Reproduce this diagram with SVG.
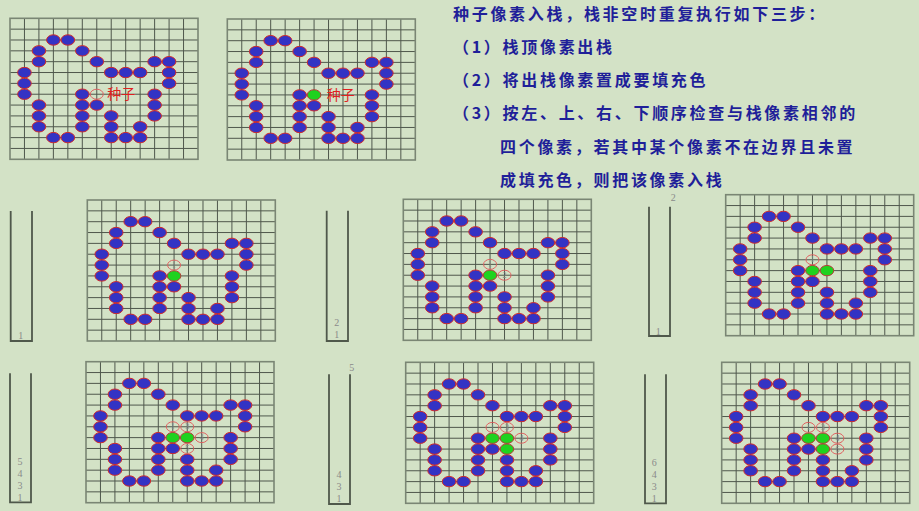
<svg xmlns="http://www.w3.org/2000/svg" xmlns:xlink="http://www.w3.org/1999/xlink" width="919" height="511" viewBox="0 0 919 511">
<style>
.gl{stroke:#4f574c;stroke-width:1;fill:none}
.gb{stroke:#7a8674;stroke-width:1.6;fill:none}
.bd{fill:#3333c4;stroke:#d22a2a;stroke-width:1}
.gr{fill:#1fd21f;stroke:#b83a3a;stroke-width:1}
.oc{fill:none;stroke:#e06262;stroke-width:1}
.dl{font-family:"Liberation Serif",serif;font-size:8px;fill:#8a8a8a;text-anchor:middle}
.sk{fill:none;stroke:#4f584b;stroke-width:1.8}
.sn{font-family:"Liberation Serif",serif;font-size:10px;fill:#8a8a8a;text-anchor:middle}
.seed{font-family:"Noto Sans CJK SC",sans-serif;font-size:14px;fill:#e02020}
.tt{font-family:"Noto Sans CJK SC",sans-serif;font-size:16px;font-weight:bold;fill:#1f1f99;letter-spacing:2.7px}
</style>
<defs>
<g id="base">
<path class="gl" d="M14.46 0V141M28.92 0V141M43.38 0V141M57.85 0V141M72.31 0V141M86.77 0V141M101.23 0V141M115.69 0V141M130.15 0V141M144.62 0V141M159.08 0V141M173.54 0V141M0 10.85H188M0 21.69H188M0 32.54H188M0 43.38H188M0 54.23H188M0 65.08H188M0 75.92H188M0 86.77H188M0 97.62H188M0 108.46H188M0 119.31H188M0 130.15H188"/>
<rect class="gb" x="0" y="0" width="188" height="141"/>
<g class="bd">
<ellipse cx="43.38" cy="21.69" rx="6.8" ry="5.2"/>
<ellipse cx="57.85" cy="21.69" rx="6.8" ry="5.2"/>
<ellipse cx="28.92" cy="32.54" rx="6.8" ry="5.2"/>
<ellipse cx="72.31" cy="32.54" rx="6.8" ry="5.2"/>
<ellipse cx="28.92" cy="43.38" rx="6.8" ry="5.2"/>
<ellipse cx="86.77" cy="43.38" rx="6.8" ry="5.2"/>
<ellipse cx="144.62" cy="43.38" rx="6.8" ry="5.2"/>
<ellipse cx="159.08" cy="43.38" rx="6.8" ry="5.2"/>
<ellipse cx="14.46" cy="54.23" rx="6.8" ry="5.2"/>
<ellipse cx="101.23" cy="54.23" rx="6.8" ry="5.2"/>
<ellipse cx="115.69" cy="54.23" rx="6.8" ry="5.2"/>
<ellipse cx="130.15" cy="54.23" rx="6.8" ry="5.2"/>
<ellipse cx="159.08" cy="54.23" rx="6.8" ry="5.2"/>
<ellipse cx="14.46" cy="65.08" rx="6.8" ry="5.2"/>
<ellipse cx="159.08" cy="65.08" rx="6.8" ry="5.2"/>
<ellipse cx="14.46" cy="75.92" rx="6.8" ry="5.2"/>
<ellipse cx="72.31" cy="75.92" rx="6.8" ry="5.2"/>
<ellipse cx="144.62" cy="75.92" rx="6.8" ry="5.2"/>
<ellipse cx="28.92" cy="86.77" rx="6.8" ry="5.2"/>
<ellipse cx="72.31" cy="86.77" rx="6.8" ry="5.2"/>
<ellipse cx="86.77" cy="86.77" rx="6.8" ry="5.2"/>
<ellipse cx="144.62" cy="86.77" rx="6.8" ry="5.2"/>
<ellipse cx="28.92" cy="97.62" rx="6.8" ry="5.2"/>
<ellipse cx="72.31" cy="97.62" rx="6.8" ry="5.2"/>
<ellipse cx="101.23" cy="97.62" rx="6.8" ry="5.2"/>
<ellipse cx="144.62" cy="97.62" rx="6.8" ry="5.2"/>
<ellipse cx="28.92" cy="108.46" rx="6.8" ry="5.2"/>
<ellipse cx="72.31" cy="108.46" rx="6.8" ry="5.2"/>
<ellipse cx="101.23" cy="108.46" rx="6.8" ry="5.2"/>
<ellipse cx="130.15" cy="108.46" rx="6.8" ry="5.2"/>
<ellipse cx="43.38" cy="119.31" rx="6.8" ry="5.2"/>
<ellipse cx="57.85" cy="119.31" rx="6.8" ry="5.2"/>
<ellipse cx="101.23" cy="119.31" rx="6.8" ry="5.2"/>
<ellipse cx="115.69" cy="119.31" rx="6.8" ry="5.2"/>
<ellipse cx="130.15" cy="119.31" rx="6.8" ry="5.2"/>
</g>
</g>
<ellipse id="g" class="gr" cx="0" cy="0" rx="6.8" ry="5.2"/>
<ellipse id="o" class="oc" cx="0" cy="0" rx="6.5" ry="5"/>
</defs>
<rect width="919" height="511" fill="#d3e2c6"/>

<g id="title">
<text class="tt" x="453" y="20">种子像素入栈，栈非空时重复执行如下三步：</text>
<text class="tt" x="453" y="52.7">（1）栈顶像素出栈</text>
<text class="tt" x="453" y="86">（2）将出栈像素置成要填充色</text>
<text class="tt" x="453" y="119.3">（3）按左、上、右、下顺序检查与栈像素相邻的</text>
<text class="tt" x="500" y="152.7">四个像素，若其中某个像素不在边界且未置</text>
<text class="tt" x="500" y="186">成填充色，则把该像素入栈</text>
</g>

<g id="grid1" transform="translate(10,18.3)">
<use href="#base"/>
<use href="#o" x="86.77" y="75.92"/>
<text class="seed" x="97.3" y="81">种子</text>
</g>

<g id="grid2" transform="translate(227.3,19)">
<use href="#base"/>
<use href="#g" x="86.77" y="75.92"/>
<text class="seed" x="99.4" y="81">种子</text>
</g>

<g id="grid3" transform="translate(87.3,200)">
<use href="#base"/>
<use href="#g" x="86.77" y="75.92"/>
<use href="#o" x="86.77" y="65.08"/><text class="dl" x="86.77" y="67.8">1</text>
</g>

<g id="grid4" transform="translate(403.3,199.3)">
<use href="#base"/>
<use href="#g" x="86.77" y="75.92"/>
<use href="#o" x="86.77" y="65.08"/><text class="dl" x="86.77" y="67.8">1</text>
<use href="#o" x="101.23" y="75.92"/><text class="dl" x="101.23" y="78.6">2</text>
</g>

<g id="grid5" transform="translate(725.7,194.7)">
<use href="#base"/>
<use href="#g" x="86.77" y="75.92"/>
<use href="#g" x="101.23" y="75.92"/>
<use href="#o" x="86.77" y="65.08"/><text class="dl" x="86.77" y="67.8">1</text>
</g>

<g id="grid6" transform="translate(86,361.7)">
<use href="#base"/>
<use href="#g" x="86.77" y="75.92"/>
<use href="#g" x="101.23" y="75.92"/>
<use href="#o" x="86.77" y="65.08"/><text class="dl" x="86.77" y="67.8">1</text>
<use href="#o" x="101.23" y="65.08"/><text class="dl" x="101.23" y="67.8">3</text>
<use href="#o" x="115.69" y="75.92"/><text class="dl" x="115.69" y="78.6">4</text>
<use href="#o" x="101.23" y="86.77"/><text class="dl" x="101.23" y="89.5">5</text>
</g>

<g id="grid7" transform="translate(405.7,362.3)">
<use href="#base"/>
<use href="#g" x="86.77" y="75.92"/>
<use href="#g" x="101.23" y="75.92"/>
<use href="#g" x="101.23" y="86.77"/>
<use href="#o" x="86.77" y="65.08"/><text class="dl" x="86.77" y="67.8">1</text>
<use href="#o" x="101.23" y="65.08"/><text class="dl" x="101.23" y="67.8">3</text>
<use href="#o" x="115.69" y="75.92"/><text class="dl" x="115.69" y="78.6">4</text>
</g>

<g id="grid8" transform="translate(721.7,362.3)">
<use href="#base"/>
<use href="#g" x="86.77" y="75.92"/>
<use href="#g" x="101.23" y="75.92"/>
<use href="#g" x="101.23" y="86.77"/>
<use href="#o" x="86.77" y="65.08"/><text class="dl" x="86.77" y="67.8">1</text>
<use href="#o" x="101.23" y="65.08"/><text class="dl" x="101.23" y="67.8">3</text>
<use href="#o" x="115.69" y="75.92"/><text class="dl" x="115.69" y="78.6">4</text>
<use href="#o" x="115.69" y="86.77"/><text class="dl" x="115.69" y="89.5">6</text>
</g>

<g id="stack1">
<path class="sk" d="M10.7 211V341H32V211"/>
<text class="sn" x="20.7" y="338.5">1</text>
</g>
<g id="stack2">
<path class="sk" d="M326.7 210.7V341H348V210.7"/>
<text class="sn" x="336.7" y="326">2</text>
<text class="sn" x="336.7" y="338">1</text>
</g>
<g id="stack3">
<path class="sk" d="M649 206.7V336H670V206.7"/>
<text class="sn" x="658.3" y="334.5">1</text>
<text class="sn" x="673.3" y="201">2</text>
</g>
<g id="stack4">
<path class="sk" d="M10 373.3V502.3H31V373.3"/>
<text class="sn" x="20" y="464.5">5</text>
<text class="sn" x="20" y="476.5">4</text>
<text class="sn" x="20" y="488.5">3</text>
<text class="sn" x="20" y="500.5">1</text>
</g>
<g id="stack5">
<path class="sk" d="M329 374.3V504H350V374.3"/>
<text class="sn" x="339" y="477.5">4</text>
<text class="sn" x="339" y="489.5">3</text>
<text class="sn" x="339" y="501.5">1</text>
<text class="sn" x="351.7" y="371">5</text>
</g>
<g id="stack6">
<path class="sk" d="M645 374.3V503.3H666V374.3"/>
<text class="sn" x="654.3" y="465.5">6</text>
<text class="sn" x="654.3" y="477.5">4</text>
<text class="sn" x="654.3" y="489.5">3</text>
<text class="sn" x="654.3" y="501.5">1</text>
</g>
</svg>
